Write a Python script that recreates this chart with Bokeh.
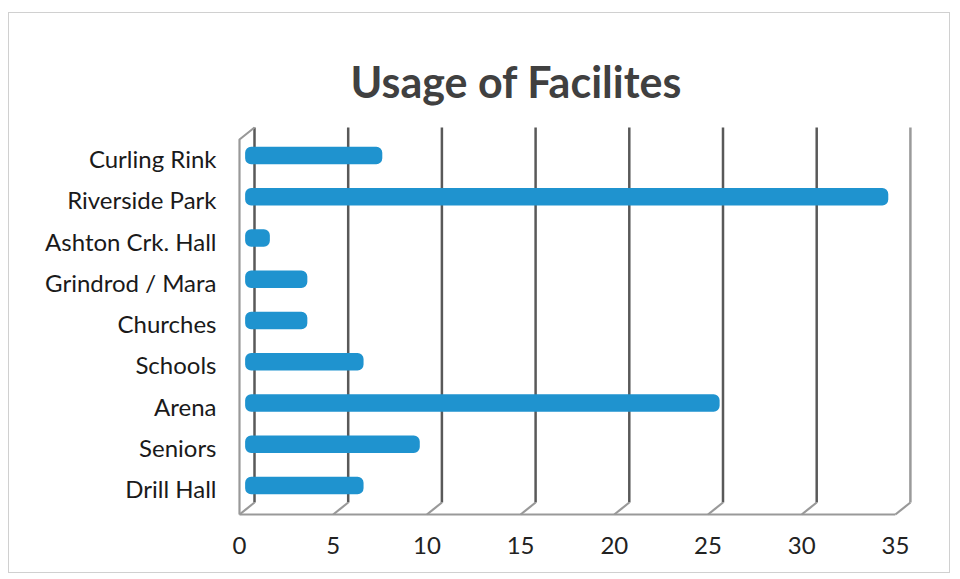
from bokeh.plotting import figure
from bokeh.models import Range1d, FixedTicker, ColumnDataSource
from bokeh.embed import file_html
from bokeh.resources import INLINE

# ---------------- data ----------------
categories = ["Drill Hall", "Seniors", "Arena", "Schools", "Churches",
              "Grindrod / Mara", "Ashton Crk. Hall", "Riverside Park", "Curling Rink"]
usage = [6, 9, 25, 6, 3, 3, 1, 34, 7]
x_ticks = [0, 5, 10, 15, 20, 25, 30, 35]
title_text = "Usage of Facilites"

# ---------------- layout (page pixels) ----------------
BOX_L, BOX_T, BOX_R, BOX_B = 8, 12, 952, 575     # outer chart border
ORG_X, ORG_Y = BOX_L + 1, BOX_T + 1               # canvas origin inside 1px border
W, H = BOX_R - BOX_L - 2, BOX_B - BOX_T - 2

PX_PER_X = 18.74      # pixels per value unit
X0_PX = 239           # page pixel of value 0 (front plane)
PX_PER_ROW = 41.25    # pixels per category row
ROW0_PX = 488         # page pixel of first category row
F_LEFT, F_RIGHT, F_TOP, F_BOTTOM = 225, 932, 112, 528


def xd(px):
    return (px - X0_PX) / PX_PER_X


def yd(py):
    return (ROW0_PX - py) / PX_PER_ROW


p = figure(width=W, height=H, output_backend="svg", toolbar_location=None,
           x_range=Range1d(xd(F_LEFT), xd(F_RIGHT)),
           y_range=Range1d(yd(F_BOTTOM), yd(F_TOP)),
           min_border_left=F_LEFT - ORG_X, min_border_right=ORG_X + W - F_RIGHT,
           min_border_top=F_TOP - ORG_Y, min_border_bottom=ORG_Y + H - F_BOTTOM,
           title=title_text)
p.outline_line_color = None
p.grid.visible = False
p.background_fill_color = "white"
p.border_fill_color = "white"
p.styles = {"border": "1px solid #d0d0d0", "margin-left": f"{BOX_L}px",
            "margin-top": f"{BOX_T}px"}

# ---------------- title ----------------
p.title.align = "left"
p.title.offset = 350 - F_LEFT
p.title.text_font = "Lato"
p.title.text_font_style = "bold"
p.title.text_font_size = "43px"
p.title.text_color = "#404040"
p.title.standoff = 11

# ---------------- 3-D walls ----------------
DXB = 15 / PX_PER_X          # depth offset in x
DYB = 12 / PX_PER_ROW        # depth offset in y
Y_FLOOR = yd(514)
Y_TOP = yd(139)

grid_x = [t + DXB for t in x_ticks]
grid_colors = ["#595959"] * (len(x_ticks) - 1) + ["#9a9a9a"]
p.segment(x0=grid_x, y0=[Y_FLOOR + DYB] * len(x_ticks),
          x1=grid_x, y1=[Y_TOP + DYB] * len(x_ticks),
          line_color=grid_colors, line_width=2.5)

# floor diagonals
p.segment(x0=grid_x, y0=[Y_FLOOR + DYB] * len(x_ticks),
          x1=x_ticks, y1=[Y_FLOOR] * len(x_ticks),
          line_color="#999999", line_width=2.2)
# floor front edge
p.line(x=[x_ticks[0], x_ticks[-1]], y=[Y_FLOOR, Y_FLOOR], line_color="#999999", line_width=2.2)
# left wall front edge and top diagonal
p.line(x=[x_ticks[0], x_ticks[0], x_ticks[0] + DXB],
       y=[Y_FLOOR, Y_TOP, Y_TOP + DYB], line_color="#999999", line_width=2.2)

# ---------------- bars (3-D blocks: span from front face to back face) ----------------
BAR_FRONT = 0.3
BAR_BACK = 0.62
BAR_DY = 3 / PX_PER_ROW
rows = list(range(len(categories)))
src = ColumnDataSource(dict(
    y=[r + BAR_DY for r in rows],
    left=[BAR_FRONT] * len(usage),
    right=[v + BAR_BACK for v in usage],
))
p.hbar(y="y", left="left", right="right", height=0.43, source=src,
       fill_color="#1f93cf", line_color=None, border_radius=6)

# ---------------- axes ----------------
p.xaxis.ticker = FixedTicker(ticks=x_ticks)
p.xaxis.axis_line_color = None
p.xaxis.major_tick_line_color = None
p.xaxis.minor_tick_line_color = None
p.xaxis.major_tick_out = 0
p.xaxis.minor_tick_out = 0
p.xaxis.major_label_standoff = 8
p.xaxis.major_label_text_font = "Lato"
p.xaxis.major_label_text_font_size = "24px"
p.xaxis.major_label_text_color = "#222222"

p.yaxis.ticker = FixedTicker(ticks=rows)
p.yaxis.major_label_overrides = {r: c for r, c in zip(rows, categories)}
p.yaxis.axis_line_color = None
p.yaxis.major_tick_line_color = None
p.yaxis.minor_tick_line_color = None
p.yaxis.major_tick_out = 0
p.yaxis.minor_tick_out = 0
p.yaxis.major_label_standoff = 9
p.yaxis.major_label_text_font = "Lato"
p.yaxis.major_label_text_font_size = "24px"
p.yaxis.major_label_text_color = "#1a1a1a"

open("out.html", "w").write(file_html(p, INLINE))
